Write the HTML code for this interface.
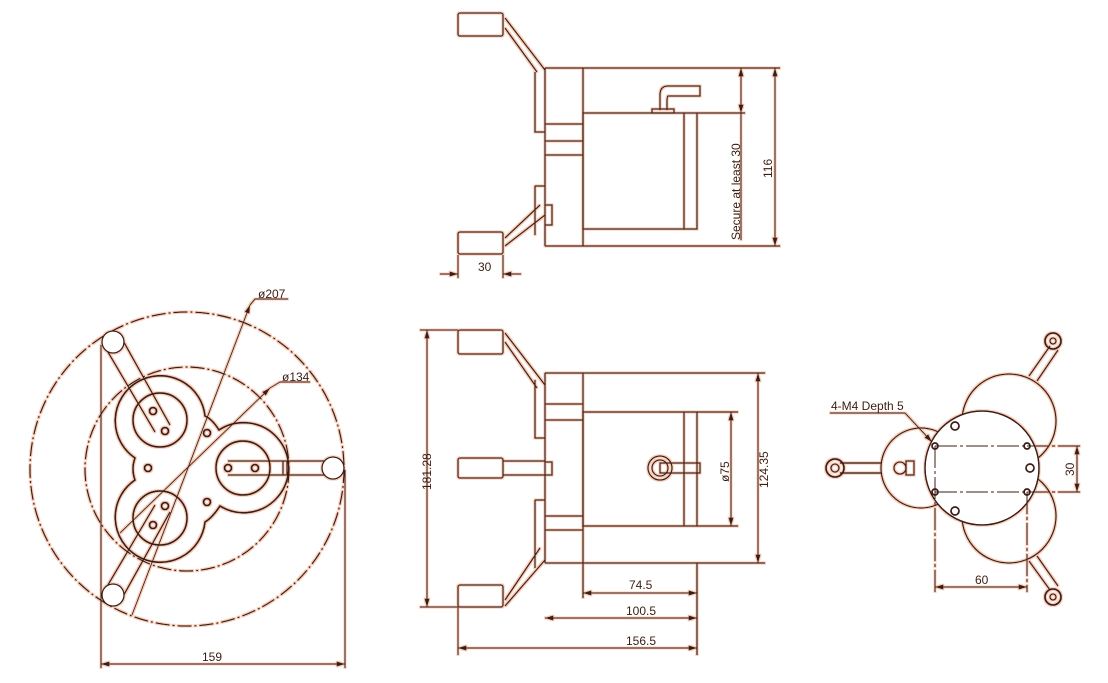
<!DOCTYPE html>
<html><head><meta charset="utf-8"><style>
html,body{margin:0;padding:0;background:#fff}
svg{display:block}
text{font-family:"Liberation Sans",sans-serif;font-size:12px;fill:#3b1d12;stroke:none}
</style></head><body>
<svg width="1108" height="683" viewBox="0 0 1108 683" xmlns="http://www.w3.org/2000/svg">
<defs>
<marker id="a" viewBox="0 0 10 6" refX="10" refY="3" markerWidth="9" markerHeight="5" orient="auto-start-reverse"><path d="M0,0L10,3L0,6z" fill="#3b1d12"/></marker>
<filter id="h" x="-5%" y="-5%" width="110%" height="110%"><feMorphology in="SourceAlpha" operator="dilate" radius="0.8" result="d"/><feFlood flood-color="#f8cdb9"/><feComposite in2="d" operator="in"/><feMerge><feMergeNode/><feMergeNode in="SourceGraphic"/></feMerge></filter>
</defs>
<g filter="url(#h)">
<g fill="none" stroke="#3b1d12" stroke-width="1.3">
<!-- LEFT VIEW -->
<circle cx="187" cy="469" r="157" stroke-dasharray="14,3,2,3"/>
<circle cx="187" cy="469" r="102" stroke-dasharray="14,3,2,3"/>
<path d="M135,458 A45,45 0 1 1 205,416 Q212,419 219,430 A45,45 0 1 1 220,506 Q212,518 205,522 A45,45 0 1 1 135,480 Q131,469 135,458Z" stroke-width="1.7"/>
<circle cx="160" cy="420" r="27" stroke-width="1.7"/>
<circle cx="160" cy="518" r="27" stroke-width="1.7"/>
<circle cx="243" cy="468" r="27" stroke-width="1.7"/>
<path d="M105,347 L155,432 M121,337 L170,425"/>
<path d="M105,590 L155,505 M121,600 L170,512"/>
<path d="M228,461 L333,461 M228,475 L333,475 M283,461 V475 M287,461 V475"/>
<circle cx="113" cy="342" r="11" fill="#fff"/><circle cx="113" cy="595" r="11" fill="#fff"/><circle cx="333" cy="468" r="11" fill="#fff"/>
<g stroke-width="1.8">
<circle cx="153" cy="411" r="3.5"/><circle cx="165" cy="431" r="3.5"/><circle cx="207" cy="433" r="3.5"/>
<circle cx="148" cy="468" r="3.5"/><circle cx="207" cy="502" r="3.5"/><circle cx="165" cy="506" r="3.5"/>
<circle cx="153" cy="525" r="3.5"/><circle cx="228" cy="468" r="3.5"/><circle cx="255" cy="468" r="3.5"/>
</g>
<path d="M101,345 V668 M345,470 V668" stroke-width="1"/>
<path d="M101,664 H345" marker-start="url(#a)" marker-end="url(#a)" stroke-width="1"/>
<path d="M132,615 L250,305" marker-end="url(#a)" stroke-width="1"/><path d="M250,305 L255,299 H288" stroke-width="1"/>
<path d="M120,533 L270,388" marker-end="url(#a)" stroke-width="1"/><path d="M270,388 L280,382 H310" stroke-width="1"/>
<!-- TOP VIEW -->
<path d="M545,68 H780 M545,246 H780 M545,68 V246 M583,68 V246"/>
<rect x="583" y="113" width="114" height="116"/>
<path d="M684,113 V229 M697,113 H745 M545,124 H583 M545,141 H583 M545,155 H583"/>
<path d="M660,110 V95 Q660,86 668,86 H700 V96 H668 Q667,96 667,102 V110"/><path d="M652,113 H674 V109 H652Z"/>
<rect x="458" y="13" width="45" height="23" rx="2"/><rect x="458" y="232" width="45" height="22" rx="2"/>
<path d="M505,18 L545,70 M505,28 L537,72 M535,72 V132 H545 M535,186 V235 M535,186 H545 M505,238 L540,205 M505,246 L545,215 M545,205 H552 V225 H545"/>
<path d="M458,255 V278 M503,255 V278" stroke-width="1"/>
<path d="M440,274 H458" marker-end="url(#a)" stroke-width="1"/><path d="M521,274 H503" marker-end="url(#a)" stroke-width="1"/>
<path d="M741,68 V113" marker-start="url(#a)" marker-end="url(#a)" stroke-width="1"/>
<path d="M741,113 V240" stroke-width="1"/>
<path d="M775,68 V246" marker-start="url(#a)" marker-end="url(#a)" stroke-width="1"/>
<!-- FRONT VIEW -->
<path d="M545,373 H765 M545,563 H765 M545,373 V563 M583,373 V563"/>
<rect x="583" y="412" width="114" height="114"/>
<path d="M684,412 V526 M697,412 H738 M697,526 H738 M545,404 H583 M545,420 H583 M545,516 H583 M545,530 H583 M697,563 V655 M583,563 V598"/>
<circle cx="660" cy="468" r="12"/><circle cx="660" cy="468" r="8"/><rect x="660" y="463" width="40" height="10"/>
<rect x="458" y="330" width="45" height="24" rx="2"/><rect x="458" y="458" width="45" height="20" rx="2"/><rect x="458" y="585" width="45" height="22" rx="2"/>
<path d="M505,333 L545,385 M505,342 L537,388 M535,380 V438 H545 M535,500 V568 M535,500 H545 M505,600 L540,548 M505,606 L545,560"/>
<path d="M503,461 H545 M503,475 H545 M545,462 H552 V475 H545"/>
<path d="M420,330 H458 M420,607 H458 M458,607 V655" stroke-width="1"/>
<path d="M427,330 V607" marker-start="url(#a)" marker-end="url(#a)" stroke-width="1"/>
<path d="M731,412 V526" marker-start="url(#a)" marker-end="url(#a)" stroke-width="1"/>
<path d="M758,373 V563" marker-start="url(#a)" marker-end="url(#a)" stroke-width="1"/>
<path d="M583,593 H697" marker-start="url(#a)" marker-end="url(#a)" stroke-width="1"/>
<path d="M545,618 H697" marker-start="url(#a)" marker-end="url(#a)" stroke-width="1"/>
<path d="M458,648 H697" marker-start="url(#a)" marker-end="url(#a)" stroke-width="1"/>
<!-- RIGHT VIEW -->
<circle cx="1009" cy="421" r="47"/><circle cx="1009" cy="516" r="47"/><circle cx="921" cy="468" r="40"/>
<circle cx="982" cy="468" r="57" stroke-width="1.5" fill="#fff"/>
<path d="M935,446 H1027 M935,492 H1027 M935,446 V592 M1027,492 V592 M1027,446 H1080 M1027,492 H1080" stroke-dasharray="22,3,3,3" stroke-width="1"/>
<g stroke-width="1.7"><circle cx="935" cy="446" r="3"/><circle cx="1027" cy="446" r="3"/><circle cx="935" cy="492" r="3"/><circle cx="1027" cy="492" r="3"/>
<circle cx="955" cy="426" r="4"/><circle cx="955" cy="511" r="4"/><circle cx="1030" cy="468" r="4"/></g>
<path d="M840,463 H881 M840,473 H881" stroke-width="1.6"/>
<circle cx="835" cy="468" r="9" stroke-width="1.8"/><circle cx="835" cy="468" r="4"/>
<path d="M1029,376 L1050,346 M1037,381 L1058,350 M1029,561 L1050,590 M1037,556 L1058,586"/>
<circle cx="1053" cy="341" r="8" stroke-width="1.8"/><circle cx="1053" cy="341" r="3"/>
<circle cx="1053" cy="597" r="8" stroke-width="1.8"/><circle cx="1053" cy="597" r="3"/>
<circle cx="900" cy="468" r="6"/><rect x="906" y="461" width="8" height="14"/>
<path d="M1077,446 V492" marker-start="url(#a)" marker-end="url(#a)" stroke-width="1"/>
<path d="M935,587 H1027" marker-start="url(#a)" marker-end="url(#a)" stroke-width="1"/>
<path d="M830,413 H905" stroke-width="1"/><path d="M905,413 L932,442" marker-end="url(#a)" stroke-width="1"/>
</g>
</g>
<text x="258" y="298">ø207</text>
<text x="282" y="381">ø134</text>
<text x="202" y="661">159</text>
<text x="478" y="271">30</text>
<text transform="translate(740,240) rotate(-90)">Secure at least 30</text>
<text transform="translate(772,178) rotate(-90)">116</text>
<text transform="translate(431,490) rotate(-90)">181.28</text>
<text transform="translate(729,482) rotate(-90)">ø75</text>
<text transform="translate(768,488) rotate(-90)">124.35</text>
<text x="629" y="589">74.5</text>
<text x="626" y="615">100.5</text>
<text x="626" y="645">156.5</text>
<text x="831" y="410">4-M4 Depth 5</text>
<text transform="translate(1074,476) rotate(-90)">30</text>
<text x="975" y="584">60</text>
</svg>
</body></html>
